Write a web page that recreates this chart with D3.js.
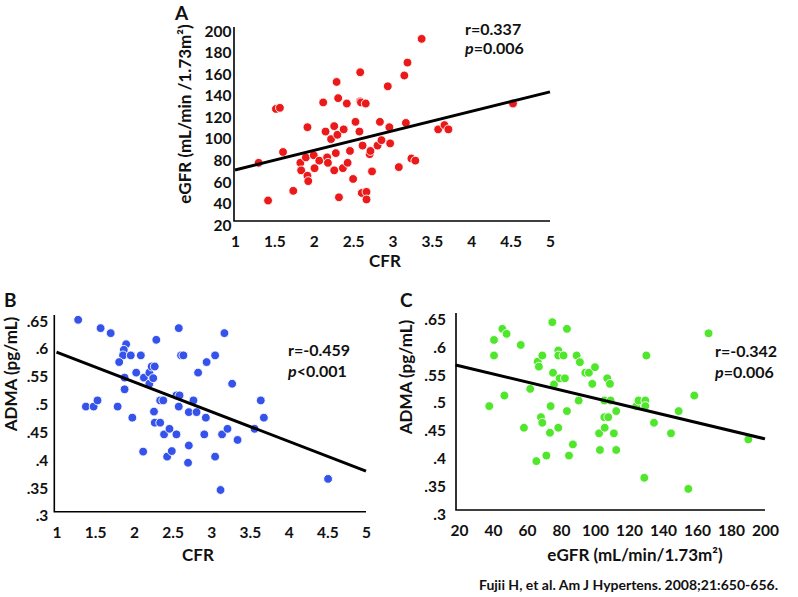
<!DOCTYPE html>
<html>
<head>
<meta charset="utf-8">
<script src="https://cdn.jsdelivr.net/npm/d3@7"></script>
<style>
  html, body { margin: 0; padding: 0; background: #fff; }
  svg text { font-family: Lato, "Open Sans", sans-serif; font-weight: bold; fill: #111; }
</style>
</head>
<body>
<svg id="chart" width="798" height="597"></svg>
<script>
// ---------- DATA ----------
// Panel A: CFR vs eGFR
const cfrA  = [1.30,1.42,1.52,1.57,1.61,1.74,1.83,1.84,1.90,1.92,1.92,1.93,2.00,2.01,2.07,2.12,2.15,2.17,2.18,2.22,2.26,2.26,2.28,2.29,2.30,2.31,2.32,2.37,2.38,2.42,2.43,2.46,2.50,2.53,2.59,2.59,2.60,2.58,2.61,2.62,2.66,2.67,2.67,2.71,2.72,2.74,2.81,2.84,2.86,2.94,2.96,2.97,3.08,3.15,3.17,3.19,3.24,3.29,3.37,3.58,3.66,3.71,4.53];
const egfrA = [74,39,124,125,84,48,74,67,79,107,62,57,81,69,76,130,103,79,74,96,108,67,83,149,100,134,42,69,105,129,74,85,59,112,158,131,130,103,46,90,129,47,40,82,85,66,90,112,95,145,107,92,70,155,111,167,78,76,189,105,109,105,129];
const regA = { x: [1, 5], y: [67.3, 139.8] };
const xTicksA = [1,1.5,2,2.5,3,3.5,4,4.5,5];
const yTicksA = [20,40,60,80,100,120,140,160,180,200];

// Panel B: CFR vs ADMA
const cfrB  = [1.28,1.57,1.70,1.90,1.87,1.86,1.96,1.81,2.09,2.03,1.88,1.88,1.79,1.38,1.48,1.53,1.98,2.12,2.13,2.20,2.20,2.23,2.27,2.25,2.29,2.26,2.27,2.34,2.34,2.38,2.39,2.43,2.46,2.49,2.55,2.55,2.59,2.58,2.58,2.61,2.64,2.70,2.71,2.71,2.77,2.81,2.83,2.91,2.93,2.94,3.05,3.05,3.12,3.14,3.17,3.21,3.27,3.34,3.56,3.64,3.68,4.51];
const admaB = [0.645,0.630,0.621,0.601,0.591,0.581,0.581,0.569,0.581,0.550,0.541,0.520,0.489,0.489,0.489,0.500,0.469,0.408,0.541,0.550,0.530,0.561,0.561,0.540,0.609,0.480,0.460,0.460,0.500,0.500,0.439,0.399,0.449,0.409,0.439,0.509,0.509,0.489,0.630,0.581,0.581,0.388,0.419,0.479,0.500,0.479,0.550,0.439,0.469,0.569,0.581,0.399,0.339,0.439,0.621,0.449,0.530,0.429,0.449,0.500,0.469,0.359];
const regB = { x: [1, 5], y: [0.587, 0.373] };
const xTicksB = [1,1.5,2,2.5,3,3.5,4,4.5,5];
const yTicksB = [0.3,0.35,0.4,0.45,0.5,0.55,0.6,0.65];

// Panel C: eGFR vs ADMA
const egfrC = [37.8,40.6,40.6,45.5,48.0,46.7,56.3,58.2,61.9,66.3,67.0,69.0,68.2,69.0,65.5,71.4,73.5,73.9,74.9,75.3,75.9,78.4,78.4,78.4,79.2,81.5,82.3,83.5,83.5,84.7,87.0,89.2,90.4,91.1,94.3,96.4,98.4,100.0,102.4,102.9,105.5,105.5,107.8,105.7,107.2,108.8,109.2,111.1,112.5,112.5,124.3,125.6,129.0,129.6,129.6,130.2,134.7,144.7,149.2,154.9,158.4,166.8,190.2];
const admaC = [0.487,0.606,0.578,0.626,0.617,0.506,0.597,0.448,0.518,0.567,0.558,0.578,0.467,0.457,0.388,0.398,0.439,0.487,0.638,0.547,0.526,0.587,0.578,0.448,0.537,0.578,0.537,0.478,0.626,0.398,0.418,0.578,0.497,0.566,0.547,0.547,0.527,0.557,0.438,0.408,0.497,0.467,0.467,0.448,0.537,0.527,0.497,0.438,0.478,0.408,0.487,0.497,0.358,0.497,0.487,0.578,0.457,0.438,0.478,0.338,0.506,0.618,0.427];
const regC = { x: [18, 200], y: [0.561, 0.428] };
const xTicksC = [20,40,60,80,100,120,140,160,180,200];
const yTicksC = [0.3,0.35,0.4,0.45,0.5,0.55,0.6,0.65];

// ---------- DRAW ----------
const svg = d3.select("#chart");
const fmtADMA = d => d3.format(".2f")(d).replace(/^0/, "").replace(/0$/, "");

function panel(o) {
  const x = d3.scaleLinear().domain(o.xDomain).range(o.xRange);
  const y = d3.scaleLinear().domain(o.yDomain).range(o.yRange);
  const g = svg.append("g");
  const left = o.axisX, bottom = o.yRange[0], top = o.axisTop, right = o.xRange[1];

  // points
  g.append("g").selectAll("circle")
    .data(o.xs.map((v, i) => [v, o.ys[i]]))
    .join("circle")
    .attr("cx", d => x(d[0])).attr("cy", d => y(d[1]))
    .attr("r", 4.4)
    .attr("fill", o.color)
    .attr("stroke", "#fff").attr("stroke-width", 0.9);

  // regression line
  g.append("line")
    .attr("x1", x(o.reg.x[0])).attr("y1", y(o.reg.y[0]))
    .attr("x2", x(o.reg.x[1])).attr("y2", y(o.reg.y[1]))
    .attr("stroke", "#000").attr("stroke-width", 3);

  // axis lines
  g.append("path")
    .attr("d", `M${left},${top}V${bottom}H${right}`)
    .attr("fill", "none").attr("stroke", "#000").attr("stroke-width", 1.6);

  // x axis ticks
  const xa = g.append("g").attr("transform", `translate(0,${bottom})`)
    .call(d3.axisBottom(x).tickValues(o.xTicks).tickSize(0).tickPadding(0).tickFormat(o.xFmt || (d => d)));
  xa.select(".domain").remove();
  xa.selectAll("text").attr("dy", null).attr("y", o.xLabelDy)
    .style("font-size", "15.5px").style("font-family", "Lato").style("font-weight", "bold").attr("fill", "#111");

  // y axis ticks
  const ya = g.append("g").attr("transform", `translate(${left},0)`)
    .call(d3.axisLeft(y).tickValues(o.yTicks).tickSize(0).tickPadding(o.yPad).tickFormat(o.yFmt || (d => d)));
  ya.select(".domain").remove();
  ya.selectAll("text").attr("dy", "0.35em").attr("y", 3.7)
    .style("font-size", "15.5px").style("font-family", "Lato").style("font-weight", "bold").attr("fill", "#111");

  // x title
  g.append("text").attr("x", o.xTitle.x).attr("y", o.xTitle.y)
    .attr("text-anchor", "middle").style("font-size", "17px").text(o.xTitle.text);
  // y title
  g.append("text").attr("transform", `translate(${o.yTitle.x},${o.yTitle.y}) rotate(-90)`)
    .attr("text-anchor", "middle").style("font-size", "17px").text(o.yTitle.text);

  // panel letter
  g.append("text").attr("x", o.letter.x).attr("y", o.letter.y)
    .style("font-size", "19px").text(o.letter.text);

  // stats
  g.append("text").attr("x", o.stats.x).attr("y", o.stats.y1)
    .style("font-size", "16px").text(o.stats.r);
  const p = g.append("text").attr("x", o.stats.x).attr("y", o.stats.y2).style("font-size", "16px");
  p.append("tspan").style("font-style", "italic").text("p");
  p.append("tspan").text(o.stats.p);
}

panel({
  xs: cfrA, ys: egfrA, color: "#ea1a1a", reg: regA,
  xDomain: [1, 5], xRange: [235, 550], yDomain: [20, 200], yRange: [221, 27],
  axisX: 234, axisTop: 27, xTicks: xTicksA, yTicks: yTicksA, xLabelDy: 25.5, yPad: 2.5,
  xTitle: { x: 385, y: 267, text: "CFR" },
  yTitle: { x: 191, y: 114, text: "eGFR (mL/min /1.73m²)" },
  letter: { x: 175, y: 20, text: "A" },
  stats: { x: 465, y1: 35, y2: 54, r: "r=0.337", p: "=0.006" }
});

panel({
  xs: cfrB, ys: admaB, color: "#3553ea", reg: regB,
  xDomain: [1, 5], xRange: [56.5, 366], yDomain: [0.3, 0.65], yRange: [511.7, 317],
  axisX: 54.3, axisTop: 315, xTicks: xTicksB, yTicks: yTicksB, xLabelDy: 26, yPad: 6,
  yFmt: fmtADMA,
  xTitle: { x: 198, y: 561, text: "CFR" },
  yTitle: { x: 17, y: 374, text: "ADMA (pg/mL)" },
  letter: { x: 4, y: 307, text: "B" },
  stats: { x: 288, y1: 356, y2: 377, r: "r=-0.459", p: "<0.001" }
});

panel({
  xs: egfrC, ys: admaC, color: "#4fe62c", reg: regC,
  xDomain: [20, 200], xRange: [459, 765], yDomain: [0.3, 0.65], yRange: [510, 315.5],
  axisX: 456, axisTop: 313, xTicks: xTicksC, yTicks: yTicksC, xLabelDy: 26, yPad: 10,
  yFmt: fmtADMA,
  xTitle: { x: 635, y: 561, text: "eGFR (mL/min/1.73m²)" },
  yTitle: { x: 412, y: 377, text: "ADMA (pg/mL)" },
  letter: { x: 400, y: 307, text: "C" },
  stats: { x: 715, y1: 357, y2: 378, r: "r=-0.342", p: "=0.006" }
});

// citation
svg.append("text").attr("x", 778).attr("y", 590).attr("text-anchor", "end")
  .style("font-size", "14px").text("Fujii H, et al. Am J Hypertens. 2008;21:650-656.");
</script>
</body>
</html>
